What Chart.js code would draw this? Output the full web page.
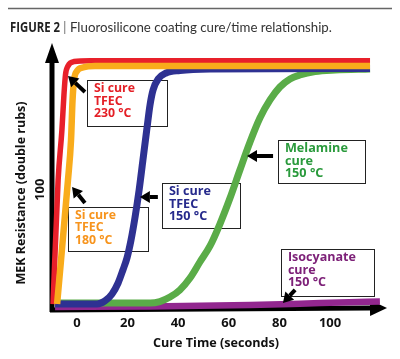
<!DOCTYPE html>
<html><head><meta charset="utf-8">
<script src="https://cdn.jsdelivr.net/npm/chart.js@4.4.1/dist/chart.umd.min.js"></script>
<style>html,body{margin:0;padding:0;background:#fff}canvas{display:block}</style>
</head><body>
<canvas id="c" width="400" height="359"></canvas>
<script>
// ---- tick labels ----
const xTicks = [0, 20, 40, 60, 80, 100];
const yTicks = [100];

// ---- series (cure time s, MEK double rubs) ----
const redX = [-9.4, -7.4, -5.9, -5.1, -4.5, -3.5, -1.1, 5.2, 115.8];
const redY = [0.2, 108.4, 152.1, 182.6, 200.1, 207.9, 211.8, 212.6, 212.6];

const orangeX = [-7.8, -3.5, -2.3, -1.7, -1.1, 0.1, 2.4, 7.2, 115.8];
const orangeY = [0.2, 108.4, 143.3, 178.2, 195.7, 203.6, 206.6, 207.9, 207.9];

const blueX = [-8.6, 8.0, 11.1, 13.9, 16.3, 18.2, 19.8, 21.4, 23.0, 24.6, 26.1, 27.7, 28.9, 30.1, 32.1, 35.2, 40.7, 52.6, 115.8];
const blueY = [0.2, 0.2, 2.9, 9.0, 18.6, 29.9, 40.4, 56.1, 76.2, 99.7, 125.9, 153.8, 173.9, 187.0, 196.6, 201.8, 204.0, 205.3, 205.8];

const greenX = [-8.6, 28.9, 32.8, 36.8, 40.7, 44.7, 48.6, 52.6, 56.5, 60.5, 64.4, 68.4, 72.3, 76.3, 80.2, 84.2, 88.1, 94.1, 102.0, 115.8];
const greenY = [1.1, 1.1, 2.4, 6.3, 12.5, 22.9, 36.9, 50.9, 70.0, 92.7, 117.2, 141.6, 162.5, 178.3, 189.6, 196.6, 200.1, 203.1, 204.4, 205.3];

const purpleX = [-8.6, 28.9, 68.4, 88.1, 103.9, 119.7];
const purpleY = [-2.4, -1.9, -0.6, 0.5, 1.5, 2.4];

// ---- callout labels ----
const labelRed = ['Si cure', 'TFEC', '230 °C'];
const labelOrange = ['Si cure', 'TFEC', '180 °C'];
const labelBlue = ['Si cure', 'TFEC', '150 °C'];
const labelGreen = ['Melamine', 'cure', '150 °C'];
const labelPurple = ['Isocyanate', 'cure', '150 °C'];

const pts = (xs, ys) => xs.map((x, i) => ({x: x, y: ys[i]}));

// callout placement in data units: box [x0,x1,yTop,yBottom], arrow head & tail; fw = width of first text line (px)
const callouts = [
  {lines: labelRed, color: '#e41f26', fw: 41, box: [4.0, 35.6, 195.7, 155.6], head: [-3.5, 199.2], tail: [3.2, 185.2]},
  {lines: labelOrange, color: '#f7941d', fw: 41, box: [-3.5, 28.1, 84.9, 46.5], head: [-1.9, 102.3], tail: [3.2, 88.4]},
  {lines: labelBlue, color: '#262a8c', fw: 42, box: [33.6, 64.4, 105.8, 66.6], head: [24.9, 93.6], tail: [32.0, 93.6]},
  {lines: labelGreen, color: '#2a9a3c', fw: 63, box: [79.4, 113.8, 143.4, 105.8], head: [67.2, 129.4], tail: [77.5, 129.4]},
  {lines: labelPurple, color: '#7d2178', fw: 68, box: [80.6, 117.4, 48.2, 7.2], head: [81.4, 1.1], tail: [86.2, 12.5]}
];

const FONT = "'Open Sans', Lato, sans-serif";
const CAPFONT = "Lato, 'Open Sans', sans-serif";

function fitSize(ctx, text, weight, family, target, lo, hi) {
  ctx.font = weight + ' 20px ' + family;
  const s = 20 * target / ctx.measureText(text).width;
  return Math.max(lo, Math.min(hi, s));
}

function arrow(ctx, x1, y1, x2, y2, w, hl, hw) {
  const a = Math.atan2(y2 - y1, x2 - x1);
  const bx = x2 - hl * Math.cos(a), by = y2 - hl * Math.sin(a);
  ctx.save();
  ctx.strokeStyle = '#000'; ctx.fillStyle = '#000';
  ctx.lineWidth = w; ctx.lineCap = 'butt';
  ctx.beginPath(); ctx.moveTo(x1, y1); ctx.lineTo(bx, by); ctx.stroke();
  ctx.beginPath();
  ctx.moveTo(x2, y2);
  ctx.lineTo(bx + hw * Math.sin(a), by - hw * Math.cos(a));
  ctx.lineTo(bx - hw * Math.sin(a), by + hw * Math.cos(a));
  ctx.closePath(); ctx.fill();
  ctx.restore();
}

const decor = {
  id: 'decor',
  beforeDatasetsDraw(chart) {
    const ctx = chart.ctx, xs = chart.scales.x, ys = chart.scales.y, ca = chart.chartArea;
    // axes with arrowheads
    arrow(ctx, ca.left + 1, ca.bottom, ca.right, ca.bottom - 2, 5, 17, 8);
    arrow(ctx, ca.left + 3, ca.bottom + 2, ca.left + 3, ca.top, 5, 20, 7);
    // callout boxes
    callouts.forEach(c => {
      const x0 = xs.getPixelForValue(c.box[0]), x1 = xs.getPixelForValue(c.box[1]);
      const y0 = ys.getPixelForValue(c.box[2]), y1 = ys.getPixelForValue(c.box[3]);
      ctx.save();
      ctx.fillStyle = '#fff';
      ctx.fillRect(x0, y0, x1 - x0, y1 - y0);
      ctx.strokeStyle = '#222'; ctx.lineWidth = 1;
      ctx.strokeRect(Math.round(x0) + 0.5, Math.round(y0) + 0.5, Math.round(x1 - x0), Math.round(y1 - y0));
      const sz = fitSize(ctx, c.lines[0], 'bold', FONT, c.fw, 11.5, 14.5);
      ctx.fillStyle = c.color;
      ctx.font = 'bold ' + sz.toFixed(2) + 'px ' + FONT;
      ctx.textBaseline = 'middle'; ctx.textAlign = 'left';
      c.lines.forEach((t, i) => ctx.fillText(t, x0 + 7, y0 + 8.5 + i * 12.5));
      ctx.restore();
    });
  },
  afterDatasetsDraw(chart) {
    const ctx = chart.ctx, xs = chart.scales.x, ys = chart.scales.y;
    callouts.forEach(c => {
      arrow(ctx, xs.getPixelForValue(c.tail[0]), ys.getPixelForValue(c.tail[1]),
        xs.getPixelForValue(c.head[0]), ys.getPixelForValue(c.head[1]), 4, 10, 6);
    });
  },
  afterDraw(chart) {
    const ctx = chart.ctx, ys = chart.scales.y;
    ctx.save();
    // top rule
    ctx.strokeStyle = '#666'; ctx.lineWidth = 1.5;
    ctx.beginPath(); ctx.moveTo(8, 8.5); ctx.lineTo(392, 8.5); ctx.stroke();
    // figure caption
    ctx.textBaseline = 'middle'; ctx.textAlign = 'left';
    ctx.font = 'bold 15px ' + FONT; ctx.fillStyle = '#222';
    const fw = ctx.measureText('FIGURE 2').width;
    ctx.save(); ctx.translate(10, 27.5); ctx.scale(50 / fw, 1); ctx.fillText('FIGURE 2', 0, 0); ctx.restore();
    ctx.font = '14px ' + CAPFONT; ctx.fillStyle = '#777';
    ctx.fillText('|', 63, 27);
    const cap = 'Fluorosilicone coating cure/time relationship.';
    const cs = fitSize(ctx, cap, 'normal', CAPFONT, 262, 12, 15);
    ctx.font = cs.toFixed(2) + 'px ' + CAPFONT; ctx.fillStyle = '#333';
    ctx.fillText(cap, 70, 27.5);
    // axis titles
    ctx.fillStyle = '#111'; ctx.textAlign = 'center';
    const xt = 'Cure Time (seconds)';
    ctx.font = 'bold ' + fitSize(ctx, xt, 'bold', FONT, 126, 11, 15).toFixed(2) + 'px ' + FONT;
    ctx.fillText(xt, 216, 343);
    const yt = 'MEK Resistance (double rubs)';
    ctx.font = 'bold ' + fitSize(ctx, yt, 'bold', FONT, 183, 11, 15).toFixed(2) + 'px ' + FONT;
    ctx.save(); ctx.translate(21, 193); ctx.rotate(-Math.PI / 2);
    ctx.fillText(yt, 0, 0); ctx.restore();
    ctx.font = 'bold 13px ' + FONT;
    yTicks.forEach(v => {
      ctx.save(); ctx.translate(40, ys.getPixelForValue(v)); ctx.rotate(-Math.PI / 2);
      ctx.fillText(String(v), 0, 0); ctx.restore();
    });
    ctx.restore();
  }
};

const ds = (label, xs, ys, color, w) => ({
  label: label, data: pts(xs, ys), borderColor: color, borderWidth: w,
  pointRadius: 0, fill: false, cubicInterpolationMode: 'monotone', clip: false,
  borderCapStyle: 'butt', borderJoinStyle: 'round'
});

new Chart(document.getElementById('c'), {
  type: 'line',
  data: {
    datasets: [
      ds('Si cure TFEC 180 °C', orangeX, orangeY, '#f9ac1b', 6.5),
      ds('Si cure TFEC 230 °C', redX, redY, '#e8202a', 5.5),
      ds('Si cure TFEC 150 °C', blueX, blueY, '#2e3192', 7),
      ds('Melamine cure 150 °C', greenX, greenY, '#5aac48', 7),
      ds('Isocyanate cure 150 °C', purpleX, purpleY, '#92278f', 6.5)
    ]
  },
  options: {
    responsive: false, animation: false, events: [],
    layout: {padding: {top: 43, right: 13, left: 0, bottom: 0}},
    plugins: {legend: {display: false}, tooltip: {enabled: false}},
    scales: {
      x: {
        type: 'linear', min: -11, max: 122.5,
        afterBuildTicks: s => { s.ticks = xTicks.map(v => ({value: v})); },
        afterFit: s => { s.height = 49; },
        grid: {display: false, drawTicks: false}, border: {display: false},
        ticks: {font: {family: FONT, weight: 'bold', size: 13}, color: '#111', padding: 5, maxRotation: 0, autoSkip: false}
      },
      y: {
        type: 'linear', min: -5, max: 228,
        afterFit: s => { s.width = 49; },
        grid: {display: false, drawTicks: false}, border: {display: false},
        ticks: {display: false}
      }
    }
  },
  plugins: [decor]
});
</script>
</body></html>
